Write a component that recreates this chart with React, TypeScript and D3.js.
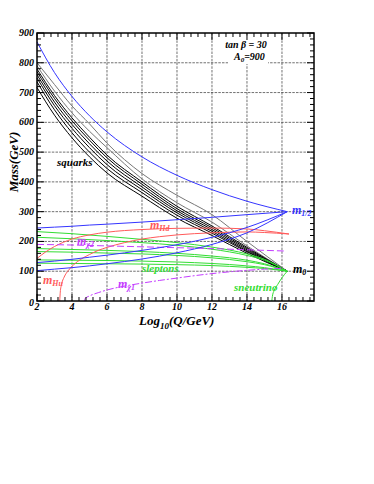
import React from 'react'
import * as d3 from 'd3'

// axis ticks
const xMajor = [2, 4, 6, 8, 10, 12, 14, 16]
const yMajor = [0, 100, 200, 300, 400, 500, 600, 700, 800, 900]

// squarks (black + gray), read at these scales
const sqX = [2, 3, 4, 5, 6, 8, 10, 12, 14, 16.3]
const squarkBlack = [
  [779, 690, 615, 550, 490, 400, 318, 252, 180, 100],
  [770, 680, 605, 540, 481, 392, 310, 246, 176, 100],
  [760, 668, 593, 528, 470, 383, 303, 240, 172, 100],
  [749, 656, 580, 515, 458, 374, 296, 234, 168, 100],
  [736, 642, 565, 500, 445, 364, 288, 228, 165, 100],
  [717, 624, 548, 484, 430, 352, 278, 220, 160, 100],
]
const squarkGray = [
  [800, 727, 655, 595, 530, 428, 355, 290, 200, 100],
  [790, 705, 632, 570, 515, 410, 330, 265, 185, 100],
]

// gaugino masses (blue)
const gauginos = [
  [870, 767, 687, 622, 568, 484, 422, 374, 335, 300],
  [245, 248, 251, 255, 258, 265, 273, 281, 290, 300],
  [129, 134, 140, 147, 154, 170, 189, 214, 247, 300],
  [102, 107, 112, 118, 125, 141, 162, 190, 229, 300],
]

// sleptons (green)
const slX = [2, 4, 6, 8, 10, 12, 14, 15, 16.3]
const sleptons = [
  [233, 226, 217, 207, 196, 181, 158, 140, 100],
  [214, 209, 203, 196, 187, 174, 153, 137, 100],
  [176, 173, 170, 166, 160, 151, 137, 125, 100],
  [166, 164, 161, 158, 153, 145, 132, 122, 100],
  [138, 137, 136, 134, 131, 126, 118, 112, 100],
  [127, 126, 125, 124, 122, 119, 113, 109, 100],
]
const snuX = [15.42, 15.45, 15.55, 15.75, 16.0, 16.3]
const snuY = [0, 15, 35, 55, 78, 100]

// Higgs mass parameters (red)
const hdX = [2, 2.5, 3, 3.5, 4, 5, 6, 8, 10, 12, 14, 15, 16.4]
const hdY = [143, 165, 183, 197, 208, 222, 231, 240, 244, 245, 242, 236, 225]
const huX = [3.3, 3.33, 3.4, 3.55, 3.8, 4.1, 4.5, 5, 5.5, 6, 7, 8, 9, 10, 12, 14, 15, 16.4]
const huY = [0, 30, 55, 80, 103, 122, 140, 156, 170, 180, 196, 208, 216, 222, 229, 232, 230, 225]

// neutralinos (purple)
const chi2X = [2, 4, 6, 8, 10, 12, 14, 16.1]
const chi2Y = [190, 188, 185, 182, 179, 176, 172, 168]
const chi1X = [4.7, 4.75, 5, 5.5, 6, 7, 8, 9, 10, 11, 12, 13, 14, 15, 16.1]
const chi1Y = [0, 8, 17, 28, 37, 50, 60, 69, 77, 85, 92, 98, 103, 107, 110]

const BLUE = '#3535ff'
const GREEN = '#33dd33'
const RED = '#ff5a5a'
const PURPLE = '#c43cff'
const FONT = '"Liberation Serif", "DejaVu Serif", serif'

const App = () => {
  const left = 37, right = 314, top = 33, bottom = 301
  const x = d3.scaleLinear().domain([2, 17.83]).range([left, right])
  const y = d3.scaleLinear().domain([0, 900]).range([bottom, top])
  const line = d3
    .line<[number, number]>()
    .x((d) => x(d[0]))
    .y((d) => y(d[1]))
    .curve(d3.curveMonotoneX)
  const path = (xs: number[], ys: number[]) =>
    line(xs.map((v, i) => [v, ys[i]] as [number, number])) || ''

  const xMinor = d3.range(2, 17.81, 0.4)
  const yMinor = d3.range(0, 901, 20)

  return (
    <svg
      width={374}
      height={484}
      style={{ position: 'absolute', left: 0, top: 0, background: '#fff' }}
      fontFamily={FONT}
      fontWeight="bold"
      fontStyle="italic"
    >
      {/* grid */}
      <g stroke="#333" strokeWidth={0.7} strokeDasharray="2.5,1.2">
        {xMajor.slice(1).map((v) => (
          <line key={'gx' + v} x1={x(v)} x2={x(v)} y1={top} y2={bottom} />
        ))}
        {yMajor.slice(1, -1).map((v) => (
          <line key={'gy' + v} x1={left} x2={right} y1={y(v)} y2={y(v)} />
        ))}
      </g>

      {/* text box top right */}
      <rect x={228} y={36} width={40} height={28} fill="#fff" />

      {/* curves */}
      <g fill="none" strokeWidth={1}>
        {squarkGray.map((s, i) => (
          <path key={'sg' + i} d={path(sqX, s)} stroke="#777" />
        ))}
        {squarkBlack.map((s, i) => (
          <path key={'sb' + i} d={path(sqX, s)} stroke="#000" />
        ))}
        {sleptons.map((s, i) => (
          <path key={'sl' + i} d={path(slX, s)} stroke={GREEN} />
        ))}
        <path d={path(snuX, snuY)} stroke={GREEN} />
        <path d={path(hdX, hdY)} stroke={RED} />
        <path d={path(huX, huY)} stroke={RED} />
        <path d={path(chi2X, chi2Y)} stroke={PURPLE} strokeDasharray="7,3" />
        <path d={path(chi1X, chi1Y)} stroke={PURPLE} strokeDasharray="7,2,2,2" />
        {gauginos.map((s, i) => (
          <path key={'ga' + i} d={path(sqX, s)} stroke={BLUE} />
        ))}
      </g>

      {/* ticks */}
      <g stroke="#000" strokeWidth={1}>
        {xMinor.map((v) => {
          const major = xMajor.includes(Math.round(v * 10) / 10)
          const len = major ? 7 : 4
          return (
            <g key={'tx' + v}>
              <line x1={x(v)} x2={x(v)} y1={bottom} y2={bottom - len} />
              <line x1={x(v)} x2={x(v)} y1={top} y2={top + len} />
            </g>
          )
        })}
        {yMinor.map((v) => {
          const len = v % 100 === 0 ? 7 : 4
          return (
            <g key={'ty' + v}>
              <line x1={left} x2={left + len} y1={y(v)} y2={y(v)} />
              <line x1={right} x2={right - len} y1={y(v)} y2={y(v)} />
            </g>
          )
        })}
      </g>
      <rect x={left} y={top} width={right - left} height={bottom - top} fill="none" stroke="#000" strokeWidth={1.5} />

      {/* tick labels */}
      <g fontSize={10} fill="#000">
        {xMajor.map((v) => (
          <text key={'lx' + v} x={x(v)} y={bottom + 9} textAnchor="middle">
            {v}
          </text>
        ))}
        {yMajor.map((v) => (
          <text key={'ly' + v} x={left - 3} y={y(v) + (v === 0 ? 5 : 3)} textAnchor="end">
            {v}
          </text>
        ))}
      </g>

      {/* axis titles */}
      <text x={139} y={325} fontSize={13}>
        Log<tspan fontSize={9} dy={4}>10</tspan>
        <tspan dy={-4}>(Q/GeV)</tspan>
      </text>
      <text transform="translate(18,162) rotate(-90)" textAnchor="middle" fontSize={13}>
        Mass(GeV)
      </text>

      {/* annotations */}
      <g fontSize={10}>
        <text x={246} y={48} textAnchor="middle">
          tan β = 30
        </text>
        <text x={234} y={60}>
          A<tspan fontSize={7} dy={2}>0</tspan>
          <tspan dy={-2}>=900</tspan>
        </text>
      </g>
      <text x={57} y={166} fontSize={11} fill="#000">
        squarks
      </text>
      <text x={142} y={272} fontSize={11} fill={GREEN}>
        sleptons
      </text>
      <text x={234} y={291} fontSize={11} fill={GREEN}>
        sneutrino
      </text>
      <g fontSize={12}>
        <text x={150} y={229} fill={RED}>
          m<tspan fontSize={8} dy={2}>Hd</tspan>
        </text>
        <text x={43} y={284} fill={RED}>
          m<tspan fontSize={8} dy={2}>Hu</tspan>
        </text>
        <text x={77} y={245} fill={PURPLE}>
          m<tspan fontSize={8} dy={2}>χ2</tspan>
        </text>
        <text x={118} y={288} fill={PURPLE}>
          m<tspan fontSize={8} dy={2}>χ1</tspan>
        </text>
        <text x={292} y={214} fill={BLUE}>
          m<tspan fontSize={8} dy={2}>1/2</tspan>
        </text>
        <text x={293} y={273} fill="#000">
          m<tspan fontSize={8} dy={2}>0</tspan>
        </text>
      </g>
    </svg>
  )
}

export default App
